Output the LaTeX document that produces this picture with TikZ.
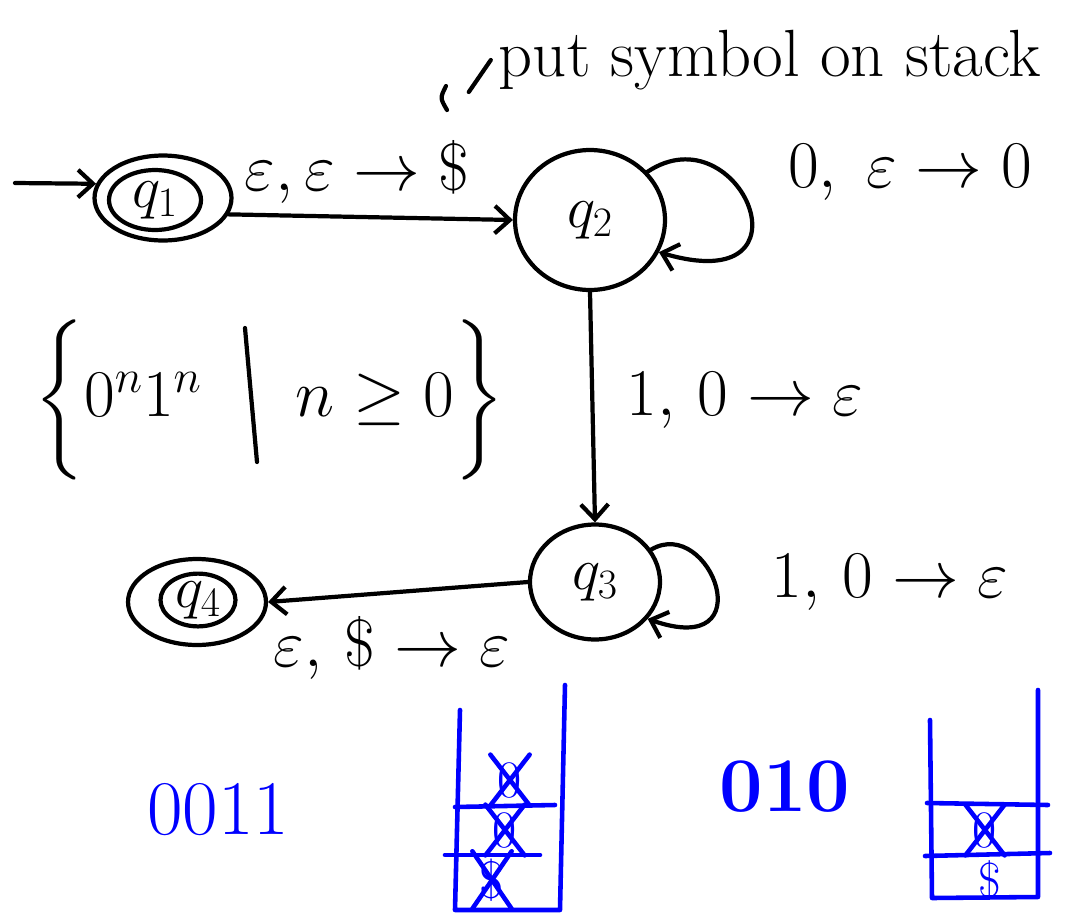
\documentclass[tikz,border=0pt]{standalone}
\usepackage{fix-cm}
\usepackage{amsmath,amssymb}
\usetikzlibrary{shapes.geometric,shapes.misc,arrows.meta}

\begin{document}
\begin{tikzpicture}[x=0.02cm,y=-0.02cm,line join=round,line cap=round,>={Straight Barb[length=3mm,width=5.5mm]},line width=2.4pt]
\tikzset{every node/.style={font=\fontsize{38}{44}\selectfont},
  state/.style={draw,ellipse,inner sep=0pt,font=\fontsize{34}{40}\selectfont},
  push/.style={blue,line width=2.6pt},
  popped/.style={cross out,draw,blue,line width=2.6pt,inner sep=3pt,font=\fontsize{30}{34}\selectfont}}
\useasboundingbox (0,0) rectangle (1083,917);
% states
\node[state,minimum width=2.74cm,minimum height=1.7cm] (q1o) at (163,198) {};
\node[state,minimum width=1.84cm,minimum height=1.2cm] (q1) at (155,200) {$q_1$};
\node[state,minimum width=3cm,minimum height=2.8cm] (q2) at (590,220) {$q_2$};
\node[state,minimum width=2.6cm,minimum height=2.3cm] (q3) at (595,582) {$q_3$};
\node[state,minimum width=2.76cm,minimum height=1.72cm] (q4o) at (197,602) {};
\node[state,minimum width=1.5cm,minimum height=1cm] (q4) at (198,600) {$q_4$};
% transitions
\coordinate (init) at (15,183);
\draw[->] (init) -- (q1o.168);
\draw[->] (q1o.-14) -- (q2.west);
\draw[->] (q2.south) -- (q3.north);
\draw[->] (q3.west) -- (q4o.east);
\draw[->] (q2.40) .. controls (740,110) and (820,300) .. (q2.-25);
\draw[->] (q3.30) .. controls (710,515) and (765,660) .. (q3.-35);
% labels
\node (a12) at (357,172) {$\varepsilon,\varepsilon\to\$$};
\node (a22) at (910,172) {$0,\;\varepsilon\to0$};
\node (a23) at (745,400) {$1,\,0\to\varepsilon$};
\node (a33) at (890,582) {$1,\,0\to\varepsilon$};
\node (a34) at (392,648) {$\varepsilon,\,\$\to\varepsilon$};
\node (langl) at (118,400) {$\bigg\{0^n1^n$};
\node (langr) at (400,400) {$n\geq0\bigg\}$};
\draw (245,328) -- (257,462);
\node (note) at (770,60) {put symbol on stack};
\coordinate (tip) at (447,110);
\draw (note.west) -- ++(-22,32);
\draw (446,86) .. controls (440,98) .. (tip);
% input strings and stacks
\node[blue,font=\fontsize{44}{50}\selectfont] (w1) at (218,810) {0011};
\node[blue,font=\fontsize{44}{50}\selectfont\bfseries] (w2) at (785,787) {010};
\draw[push] (460,710) -- (455,910) -- (560,910) -- (565,685);
\draw[push] (455,807) -- (555,805);
\draw[push] (445,855) -- (540,855);
\node[popped] (s1a) at (510,780) {0};
\node[popped] (s1b) at (505,830) {0};
\node[popped] (s1c) at (492,880) {\$};
\draw[push] (930,720) -- (932,898) -- (1038,897) -- (1038,690);
\draw[push] (927,803) -- (1048,805);
\draw[push] (925,856) -- (1050,853);
\node[popped] (s2a) at (985,830) {0};
\node[blue,font=\fontsize{28}{32}\selectfont] (s2b) at (990,880) {\$};
\end{tikzpicture}
\end{document}
